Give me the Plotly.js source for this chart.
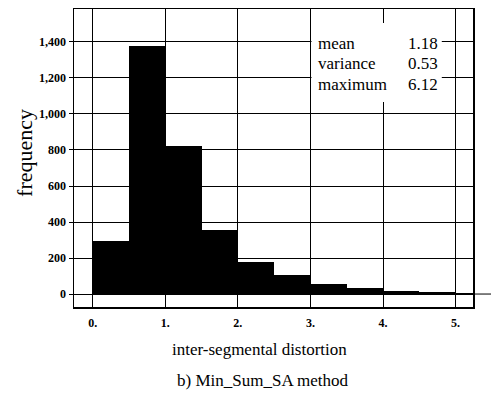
<!DOCTYPE html>
<html>
<head>
<meta charset="utf-8">
<script src="https://cdn.plot.ly/plotly-3.0.1.min.js"></script>
<style>html,body{margin:0;padding:0;background:#fff;}#chart{width:491px;height:408px;}</style>
</head>
<body>
<div id="chart"></div>
<script>
// Histogram bins (left edges) and frequencies
var binStarts = [0, 0.5, 1.0, 1.5, 2.0, 2.5, 3.0, 3.5, 4.0, 4.5, 5.0];
var binWidth = 0.5;
var frequencies = [295, 1375, 820, 355, 178, 108, 56, 32, 18, 12, 6];

var xTickVals = [0, 1, 2, 3, 4, 5];
var xTickLabels = ['0.', '1.', '2.', '3.', '4.', '5.'];
var yTickVals = [0, 200, 400, 600, 800, 1000, 1200, 1400];

var statLabels = ['mean', 'variance', 'maximum'];
var statValues = ['1.18', '0.53', '6.12'];
var statRows = [1394, 1283, 1161];

var xTitle = 'inter-segmental distortion';
var yTitle = 'frequency';
var caption = 'b) Min_Sum_SA method';

var serif = 'Liberation Serif';

var centers = binStarts.map(function (s) { return s + binWidth / 2; });

var trace = {
  type: 'bar',
  x: centers,
  y: frequencies,
  width: binStarts.map(function () { return binWidth; }),
  marker: { color: '#000', line: { width: 0 } },
  hoverinfo: 'x+y'
};

var annotations = [];
statLabels.forEach(function (lab, i) {
  annotations.push({ xref: 'x', yref: 'y', x: 3.07, y: statRows[i], text: lab, showarrow: false,
    xanchor: 'left', yanchor: 'middle', font: { family: serif, size: 17, color: '#000' } });
  annotations.push({ xref: 'x', yref: 'y', x: 4.79, y: statRows[i], text: statValues[i], showarrow: false,
    xanchor: 'right', yanchor: 'middle', font: { family: serif, size: 17, color: '#000' } });
});
annotations.push({ xref: 'paper', yref: 'paper', x: 0.4637, y: -0.144, text: xTitle, showarrow: false,
  xanchor: 'center', yanchor: 'middle', font: { family: serif, size: 17, color: '#000' } });
annotations.push({ xref: 'paper', yref: 'paper', x: 0.472, y: -0.248, text: caption, showarrow: false,
  xanchor: 'center', yanchor: 'middle', font: { family: serif, size: 17, color: '#000' } });
annotations.push({ xref: 'paper', yref: 'paper', x: -0.1228, y: 0.517, text: yTitle, showarrow: false,
  textangle: -90, xanchor: 'center', yanchor: 'middle', font: { family: serif, size: 22, color: '#000' } });

var layout = {
  width: 491,
  height: 408,
  margin: { l: 74, r: 18, t: 9, b: 101, pad: 0 },
  paper_bgcolor: '#fff',
  plot_bgcolor: '#fff',
  font: { family: serif, color: '#000' },
  showlegend: false,
  bargap: 0,
  xaxis: {
    range: [-0.258, 5.24],
    tickvals: xTickVals,
    ticktext: xTickLabels,
    showgrid: true,
    gridcolor: '#000',
    gridwidth: 1,
    zeroline: false,
    showline: true,
    linecolor: '#000',
    linewidth: 1.5,
    mirror: true,
    ticks: 'outside',
    ticklen: 4,
    tickcolor: 'rgba(0,0,0,0)',
    tickfont: { family: serif, size: 12, color: '#000', weight: 'bold' }
  },
  yaxis: {
    range: [-72, 1583],
    tickvals: yTickVals,
    tickformat: ',',
    showgrid: true,
    gridcolor: '#000',
    gridwidth: 1,
    zeroline: false,
    showline: true,
    linecolor: '#000',
    linewidth: 1.5,
    mirror: true,
    ticks: 'outside',
    ticklen: 4,
    tickcolor: '#000',
    tickfont: { family: serif, size: 12, color: '#000', weight: 'bold' }
  },
  shapes: [
    { type: 'rect', xref: 'x', yref: 'y', x0: 3.015, x1: 4.81, y0: 1067, y1: 1505,
      fillcolor: '#fff', line: { width: 0 }, layer: 'above' },
    { type: 'line', xref: 'paper', yref: 'y', x0: 1, x1: 1.05, y0: 0, y1: 0,
      line: { color: '#000', width: 1 } }
  ],
  annotations: annotations
};

Plotly.newPlot('chart', [trace], layout, { displayModeBar: false, staticPlot: true });
</script>
</body>
</html>
